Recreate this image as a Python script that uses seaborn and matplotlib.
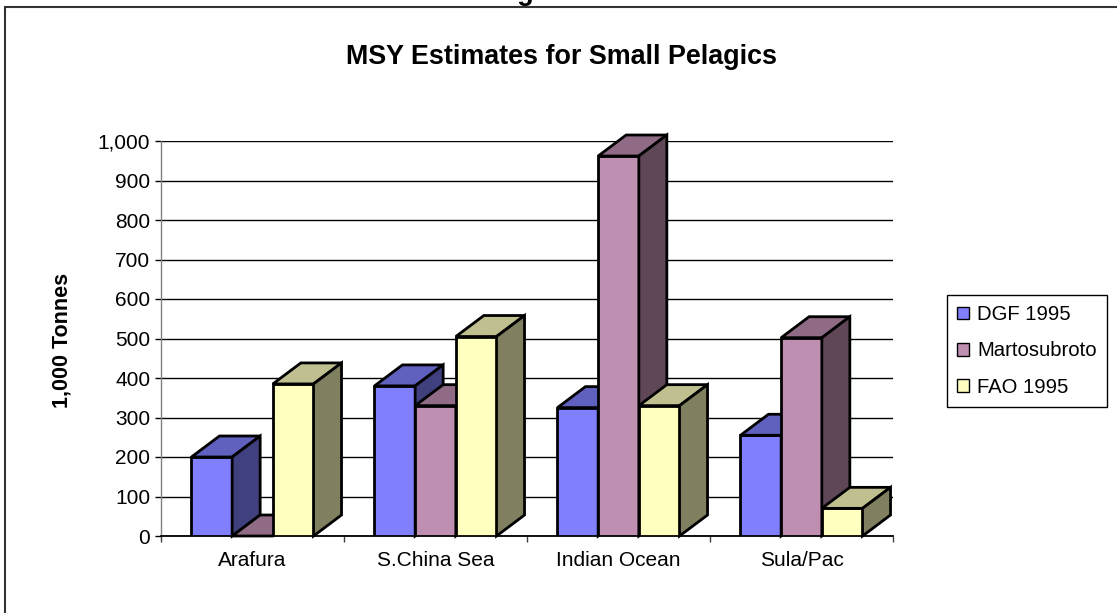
import matplotlib
matplotlib.use("Agg")
import matplotlib.pyplot as plt
from matplotlib.patches import Polygon, Rectangle
import numpy as np
import pandas as pd
import seaborn as sns

# ---- data -------------------------------------------------------------
regions = ["Arafura", "S.China Sea", "Indian Ocean", "Sula/Pac"]
sources = ["DGF 1995", "Martosubroto", "FAO 1995"]
dgf_1995 = [200, 380, 325, 255]
martosubroto = [0, 330, 962, 502]
fao_1995 = [385, 505, 330, 70]
y_ticks = [0, 100, 200, 300, 400, 500, 600, 700, 800, 900, 1000]
y_tick_labels = [f"{v:,}" for v in y_ticks]

# ---- styling ----------------------------------------------------------
front_colors = ["#8080FF", "#BF8FB2", "#FFFFC0"]
top_colors = ["#6060BF", "#8F6B85", "#BFBF90"]
side_colors = ["#40407F", "#604758", "#808060"]
DEPTH_PX = (28, 21)  # oblique depth offset of the 3-D columns, in pixels
EDGE_LW = 2.0

sns.set_style("white")
plt.rcParams["font.family"] = ["Liberation Sans", "DejaVu Sans"]
plt.rcParams["text.color"] = "black"
plt.rcParams["xtick.color"] = "black"
plt.rcParams["ytick.color"] = "black"
plt.rcParams["xtick.labelcolor"] = "black"
plt.rcParams["ytick.labelcolor"] = "black"

W, H = 1117, 613
fig = plt.figure(figsize=(W / 100, H / 100), dpi=100)
ax = fig.add_axes([161 / W, 1 - 536 / H, (893 - 161) / W, (536 - 141) / H])

records = []
for src, vals in zip(sources, [dgf_1995, martosubroto, fao_1995]):
    for reg, v in zip(regions, vals):
        records.append({"Region": reg, "Source": src, "Value": v})
df = pd.DataFrame(records)

sns.barplot(data=df, x="Region", y="Value", hue="Source", order=regions,
            hue_order=sources, palette=front_colors, saturation=1,
            width=0.667, edgecolor="black", linewidth=EDGE_LW,
            errorbar=None, legend=False, ax=ax)

ax.set_xlim(-0.5, len(regions) - 0.5)
ax.set_ylim(0, 1000)

# ---- extrude each column into a 3-D box (top + right side faces) -------
bars = sorted(ax.patches, key=lambda p: p.get_x())
to_disp = ax.transData.transform
to_data = ax.transData.inverted().transform
off = np.array(DEPTH_PX, dtype=float)

for i, bar in enumerate(bars):
    j = i % len(sources)
    z = 3 + 0.1 * j
    bar.set_zorder(z)
    bar.set_joinstyle("miter")
    x0 = bar.get_x()
    x1 = x0 + bar.get_width()
    h = bar.get_height()
    fl = to_disp((x0, h))
    fr = to_disp((x1, h))
    br = to_disp((x1, 0))
    top = np.array([fl, fr, fr + off, fl + off])
    side = np.array([br, fr, fr + off, br + off])
    for pts, col in ((top, top_colors[j]), (side, side_colors[j])):
        ax.add_patch(Polygon(to_data(pts), closed=True, facecolor=col,
                             edgecolor="black", linewidth=EDGE_LW,
                             joinstyle="miter", zorder=z, clip_on=False))

# ---- axes -------------------------------------------------------------
ax.set_axisbelow(True)
ax.yaxis.grid(True, color="black", linewidth=1)
ax.xaxis.grid(False)
ax.set_yticks(y_ticks, y_tick_labels)
ax.set_xticks(range(len(regions)), regions)
ax.set_xticks(np.arange(-0.5, len(regions)), minor=True)
ax.tick_params(axis="y", direction="out", length=4.3, width=1,
               color="black", labelsize=15, pad=3.5, left=True)
ax.tick_params(axis="x", which="major", length=0, labelsize=15, pad=11)
ax.tick_params(axis="x", which="minor", direction="out", length=4.3,
               width=1, color="#404040", bottom=True)
ax.set_xlabel("")
ax.set_ylabel("")
for s in ("top", "right"):
    ax.spines[s].set_visible(False)
ax.spines["left"].set_color("#808080")
ax.spines["left"].set_linewidth(1)
ax.spines["bottom"].set_color("black")
ax.spines["bottom"].set_linewidth(1.3)

# ---- texts ------------------------------------------------------------
fig.text(493 / W, 1.0, "Figure 3", fontsize=19.5, fontweight="bold",
         ha="left", va="baseline")
fig.text(561 / W, 1 - 57 / H, "MSY Estimates for Small Pelagics",
         fontsize=19.4, fontweight="bold", ha="center", va="center")
fig.text(62 / W, 1 - 340 / H, "1,000 Tonnes", fontsize=15.5,
         fontweight="bold", rotation=90, ha="center", va="center")

# ---- legend -----------------------------------------------------------
handles = [Rectangle((0, 0), 1, 1, facecolor=c, edgecolor="black", linewidth=1)
           for c in front_colors]
leg = fig.legend(handles, sources, loc="upper left",
                 bbox_to_anchor=(947 / W, 1 - 295 / H),
                 bbox_transform=fig.transFigure, fontsize=14.6,
                 frameon=True, fancybox=False, framealpha=1,
                 edgecolor="black", borderpad=0.5, handlelength=0.6,
                 handleheight=0.6, handletextpad=0.4, labelspacing=0.85,
                 borderaxespad=0)
leg.get_frame().set_linewidth(1)

# ---- outer chart frame --------------------------------------------------
fig.add_artist(Rectangle((4.5 / W, -0.1), 1.2, 1.1 - 7 / H,
                         transform=fig.transFigure, fill=False,
                         edgecolor="#333333", linewidth=1.5))

fig.savefig("out.png", dpi=100)
